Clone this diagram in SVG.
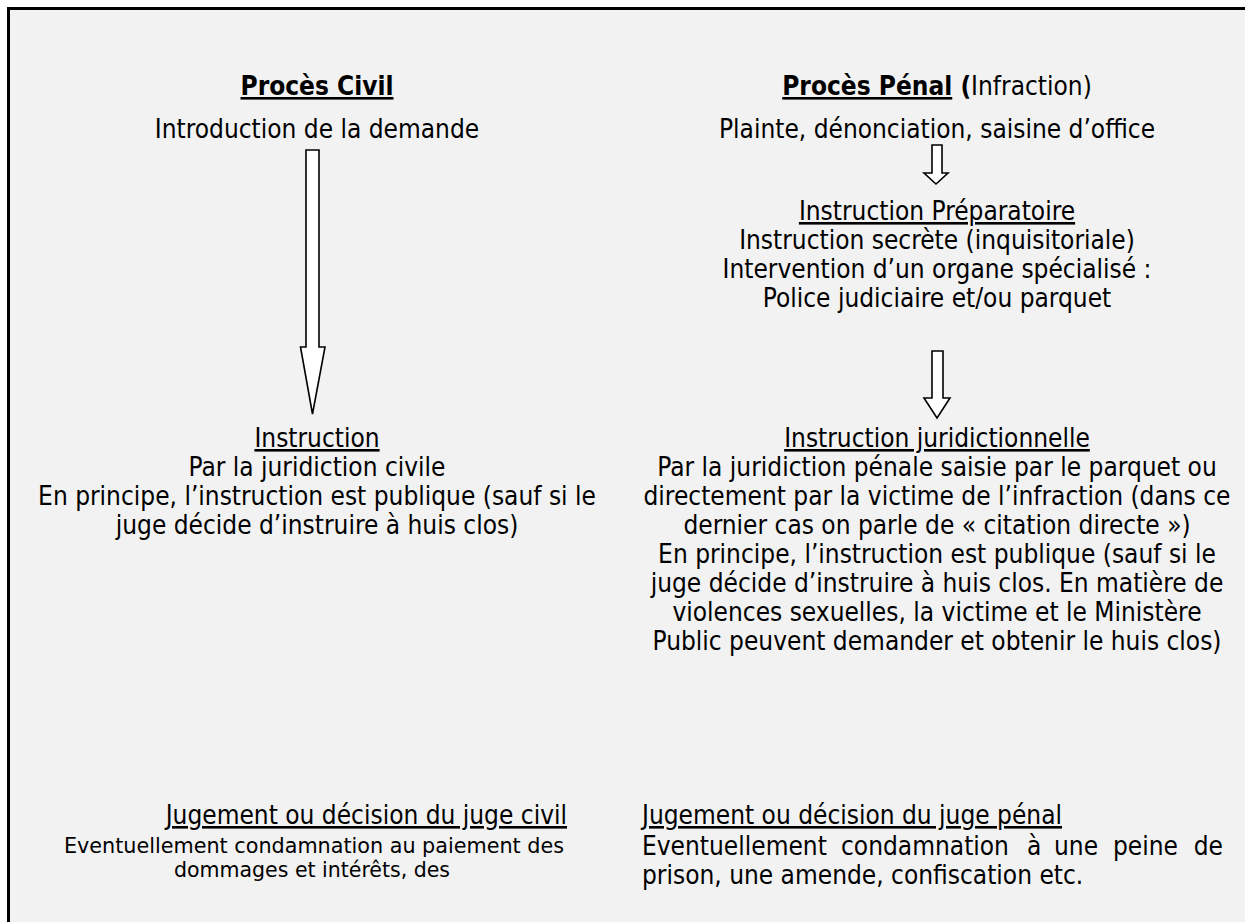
<svg xmlns="http://www.w3.org/2000/svg" width="1245" height="922" viewBox="0 0 1245 922">
<style>
text{font-family:"DejaVu Sans Condensed","DejaVu Sans",sans-serif;font-stretch:condensed;font-size:26px;fill:#000}
.c{text-anchor:middle}
.b{font-weight:bold}
.u{text-decoration:underline}
.s{font-size:22px}
.arrow{fill:#fff;stroke:#000;stroke-width:1.6;stroke-linejoin:miter}
</style>
<rect x="0" y="0" width="1245" height="922" fill="#fff"/>
<rect x="9" y="9" width="1236" height="913" fill="#f2f2f2"/>
<path d="M8.5 922 V8.5 H1245" fill="none" stroke="#000" stroke-width="3"/>

<g id="civil-title"><text class="c b u" x="317" y="95">Procès Civil</text></g>
<g id="civil-intro"><text class="c" x="317" y="138">Introduction de la demande</text></g>
<g id="civil-instruction">
<text class="c u" x="317" y="447">Instruction</text>
<text class="c" x="317" y="476">Par la juridiction civile</text>
<text class="c" x="317" y="505">En principe, l’instruction est publique (sauf si le</text>
<text class="c" x="317" y="534">juge décide d’instruire à huis clos)</text>
</g>
<g id="civil-jugement">
<text x="567" y="824" text-anchor="end" class="u">Jugement ou décision du juge civil</text>
<text class="c s" x="314" y="853" textLength="500" lengthAdjust="spacingAndGlyphs">Eventuellement condamnation au paiement des</text>
<text class="s" x="174" y="877" textLength="276" lengthAdjust="spacingAndGlyphs">dommages et intérêts, des</text>
</g>

<g id="penal-title"><text class="c" x="937" y="95"><tspan class="b u">Procès Pénal</tspan><tspan class="b"> (</tspan><tspan>Infraction)</tspan></text></g>
<g id="penal-plainte"><text class="c" x="937" y="138">Plainte, dénonciation, saisine d’office</text></g>
<g id="penal-preparatoire">
<text class="c u" x="937" y="220">Instruction Préparatoire</text>
<text class="c" x="937" y="249">Instruction secrète (inquisitoriale)</text>
<text class="c" x="937" y="278">Intervention d’un organe spécialisé :</text>
<text class="c" x="937" y="307">Police judiciaire et/ou parquet</text>
</g>
<g id="penal-juridictionnelle">
<text class="c u" x="937" y="447">Instruction juridictionnelle</text>
<text class="c" x="937" y="476">Par la juridiction pénale saisie par le parquet ou</text>
<text class="c" x="937" y="505">directement par la victime de l’infraction (dans ce</text>
<text class="c" x="937" y="534">dernier cas on parle de « citation directe »)</text>
<text class="c" x="937" y="563">En principe, l’instruction est publique (sauf si le</text>
<text class="c" x="937" y="592">juge décide d’instruire à huis clos. En matière de</text>
<text class="c" x="937" y="621">violences sexuelles, la victime et le Ministère</text>
<text class="c" x="937" y="650">Public peuvent demander et obtenir le huis clos)</text>
</g>
<g id="penal-jugement">
<text class="u" x="642" y="824">Jugement ou décision du juge pénal</text>
<text y="855"><tspan x="642">Eventuellement</tspan><tspan x="841">condamnation</tspan><tspan x="1027">à</tspan><tspan x="1054">une</tspan><tspan x="1113">peine</tspan></text>
<text y="855" x="1223" text-anchor="end">de</text>
<text x="642" y="884">prison, une amende, confiscation etc.</text>
</g>

<g id="connectors">
<polygon class="arrow" points="306,150 319,150 319,347 325,347 312.5,414 300.5,347 306,347"/>
<polygon class="arrow" points="932,145 942,145 942,173 948,173 936,184 924,173 932,173"/>
<polygon class="arrow" points="932,351 943,351 943,398 950,398 937,418 924,398 932,398"/>
</g>
</svg>
